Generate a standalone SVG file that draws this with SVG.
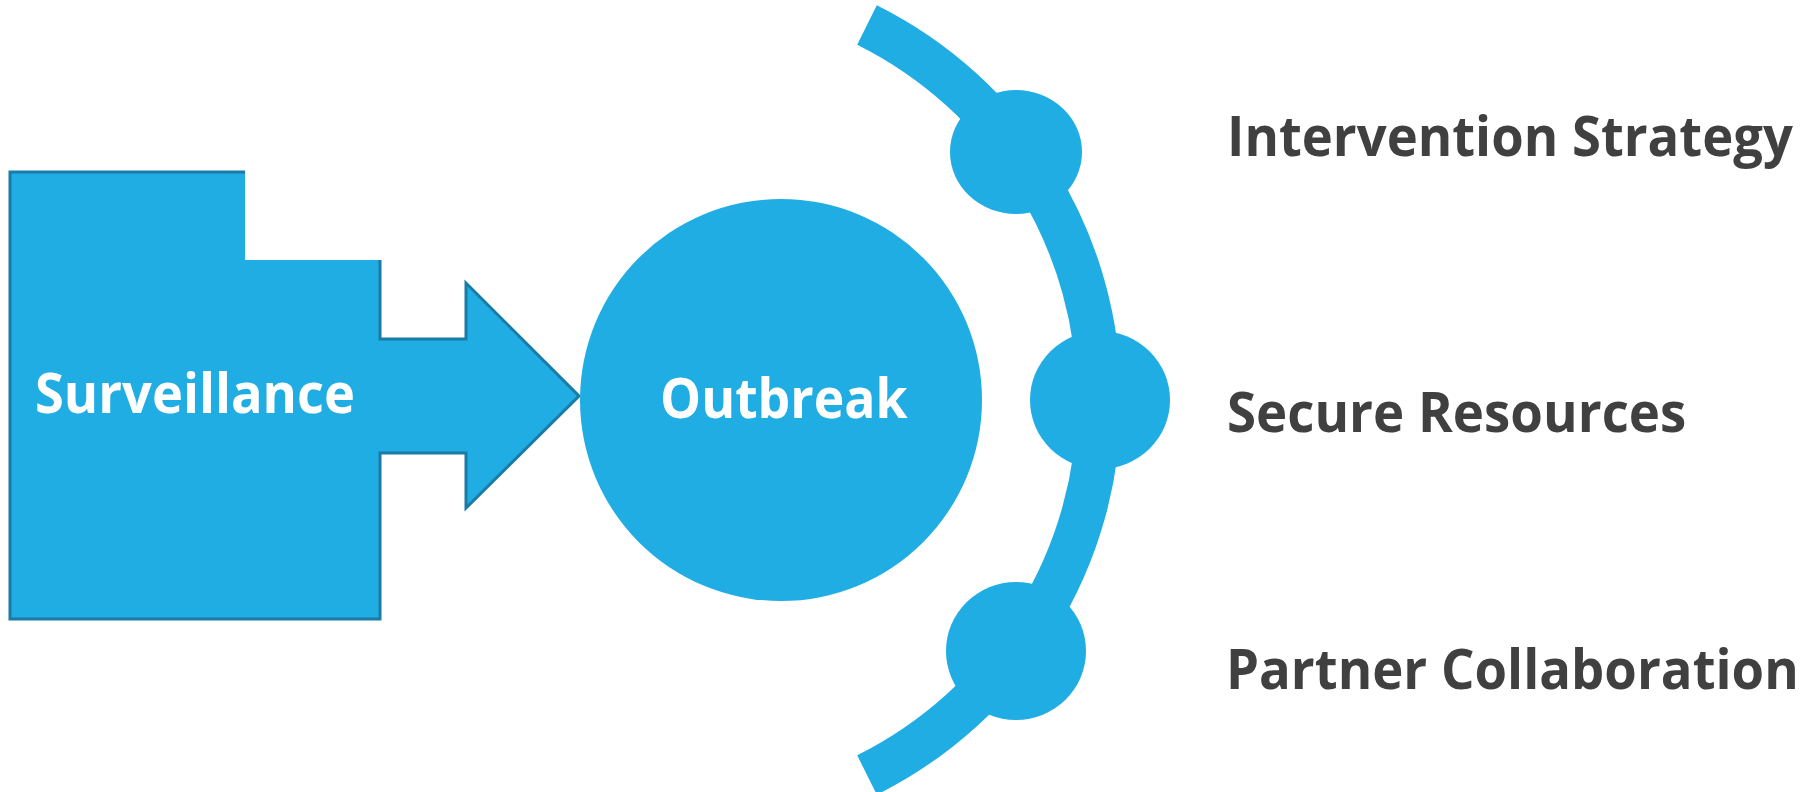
<svg xmlns="http://www.w3.org/2000/svg" width="1812" height="792" viewBox="0 0 1812 792">
<style>
.fill{fill:#1FADE3;}
.edge{fill:none;stroke:#1A7BA6;stroke-width:3;stroke-linejoin:miter;}
.lbl{font-family:"Open Sans","Noto Sans","Liberation Sans",sans-serif;font-weight:bold;font-size:56px;}
.w{fill:#FFFFFF;}
.d{fill:#404040;}
</style>
<rect width="1812" height="792" fill="#FFFFFF"/>
<g id="surveillance">
<path class="fill" d="M10,172 L245,172 L245,260 L380,260 L380,339 L466,339 L466,283 L579,396 L466,508 L466,453 L380,453 L380,619 L10,619 Z"/>
<path class="edge" d="M245,172 L10,172 L10,619 L380,619 L380,453 L466,453 L466,508 L579,396 L466,283 L466,339 L380,339 L380,260"/>
<text class="lbl w" transform="translate(35,413) scale(0.86,1)" x="0" y="0" textLength="372" lengthAdjust="spacingAndGlyphs">Surveillance</text>
</g>
<g id="connectors">
<path d="M867,25 A419,419 0 0 1 867,775" fill="none" stroke="#1FADE3" stroke-width="44"/>
</g>
<g id="outbreak">
<circle class="fill" cx="781" cy="400" r="201"/>
<text class="lbl w" transform="translate(660,418) scale(0.86,1)" x="0" y="0" textLength="288" lengthAdjust="spacingAndGlyphs">Outbreak</text>
</g>
<g id="node-intervention">
<ellipse class="fill" cx="1016" cy="152" rx="66" ry="62"/>
<text class="lbl d" transform="translate(1227,156) scale(0.86,1)" x="0" y="0" textLength="658" lengthAdjust="spacingAndGlyphs">Intervention Strategy</text>
</g>
<g id="node-resources">
<ellipse class="fill" cx="1100" cy="400" rx="70" ry="69"/>
<text class="lbl d" transform="translate(1227,432) scale(0.86,1)" x="0" y="0" textLength="534" lengthAdjust="spacingAndGlyphs">Secure Resources</text>
</g>
<g id="node-partner">
<ellipse class="fill" cx="1016" cy="651" rx="70" ry="69"/>
<text class="lbl d" transform="translate(1226,689) scale(0.86,1)" x="0" y="0" textLength="666" lengthAdjust="spacingAndGlyphs">Partner Collaboration</text>
</g>
</svg>
